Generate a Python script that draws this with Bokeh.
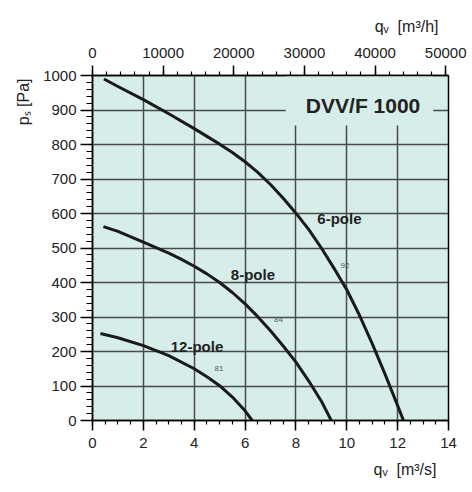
from bokeh.plotting import figure
from bokeh.models import Range1d, LinearAxis, FixedTicker, Label, Grid, Title
from bokeh.embed import file_html
from bokeh.resources import INLINE

# ---------------- data ----------------
x_ticks = [0, 2, 4, 6, 8, 10, 12, 14]
x_minor = [i * 0.5 for i in range(29)]
y_ticks = [0, 100, 200, 300, 400, 500, 600, 700, 800, 900, 1000]
y_minor = [i * 20 for i in range(51)]
h_ticks = [0, 10000, 20000, 30000, 40000, 50000]
h_minor = [i * 2000 for i in range(26)]

pole6_q = [0.45, 1, 2, 3, 4, 5, 5.5, 6, 6.5, 7, 7.5, 8, 8.5, 9, 9.5, 10,
           10.5, 11, 11.5, 12, 12.23]
pole6_p = [990, 968, 930, 889, 846, 801, 777, 750, 719, 684, 644, 601, 554,
           500, 441, 379, 305, 223, 135, 43, 0]
pole8_q = [0.43, 1, 2, 3, 3.5, 4, 4.5, 5, 5.5, 6, 6.5, 7, 7.5, 8, 8.5, 9, 9.39]
pole8_p = [562, 548, 517, 485, 467, 447, 425, 400, 371, 338, 301, 260, 216,
           169, 115, 56, 0]
pole12_q = [0.31, 1, 2, 3, 4, 4.5, 5, 5.5, 6, 6.28]
pole12_p = [252, 240, 217, 188, 150, 127, 101, 68, 28, 0]

curve_names = ["6-pole", "8-pole", "12-pole"]
curve_name_pos = [(9.71, 585), (6.31, 423), (4.11, 214)]
curve_eff = ["92", "84", "81"]
curve_eff_pos = [(9.93, 449), (7.31, 293), (4.97, 152)]
title_text = "DVV/F 1000"
x_title = "q\u1d65\u00a0\u00a0[m\u00b3/s]"
top_title = "q\u1d65\u00a0\u00a0[m\u00b3/h]"
y_title = "p\u209b\u00a0[Pa]"

# ---------------- layout ----------------
W, H = 468, 488
FL, FR, FT, FB = 92, 448, 75, 420  # frame in figure px
BG = "#d7ede9"
FONT = "Liberation Sans"
XMAX, YMAX = 14, 1000

p = figure(width=W, height=H, output_backend="svg", toolbar_location=None,
           x_range=Range1d(0, XMAX), y_range=Range1d(0, YMAX),
           min_border_left=FL, min_border_right=W - FR,
           min_border_top=FT, min_border_bottom=H - FB,
           x_axis_location=None, y_axis_location=None)
p.extra_x_ranges = {"h": Range1d(0, XMAX * 3600)}
p.background_fill_color = BG
p.border_fill_color = "white"
p.outline_line_color = "black"
p.outline_line_width = 1.5


def style_axis(ax, ticks, minor, tout, mout, standoff):
    ax.ticker = FixedTicker(ticks=ticks, minor_ticks=minor)
    ax.axis_line_color = "black"
    ax.axis_line_width = 1.5
    ax.major_tick_line_color = "black"
    ax.major_tick_line_width = 1.5
    ax.minor_tick_line_color = "black"
    ax.minor_tick_line_width = 1.2
    ax.major_tick_in = 0
    ax.minor_tick_in = 0
    ax.major_tick_out = tout
    ax.minor_tick_out = mout
    ax.major_label_standoff = standoff
    ax.major_label_text_font = FONT
    ax.major_label_text_font_size = "15px"
    ax.major_label_text_color = "#222222"
    ax.axis_label = None


xb = LinearAxis()
style_axis(xb, x_ticks, x_minor, 10, 4, 7)
p.add_layout(xb, "below")
yl = LinearAxis()
style_axis(yl, y_ticks, y_minor, 12, 6, 4)
p.add_layout(yl, "left")
xt = LinearAxis(x_range_name="h")
style_axis(xt, h_ticks, h_minor, 10, 4, 8)
p.add_layout(xt, "above")


def side_title(text, place, offset, standoff):
    t = Title(text=text, align="right", offset=offset, standoff=standoff,
              text_font=FONT, text_font_size="16px", text_font_style="normal",
              text_color="#222222")
    p.add_layout(t, place)


side_title(x_title, "below", 12, 17)
side_title(top_title, "above", 10, 19)
side_title(y_title, "left", 3, 18)

p.xgrid.visible = False
p.ygrid.visible = False
gx = Grid(dimension=0, ticker=FixedTicker(ticks=x_ticks[1:-1]),
          grid_line_color="#4a4a4a", grid_line_width=1.5)
gy = Grid(dimension=1, ticker=FixedTicker(ticks=y_ticks[1:-1]),
          grid_line_color="#4a4a4a", grid_line_width=1.5)
p.add_layout(gx)
p.add_layout(gy)

# title box covering the grid
BOX = dict(left=7.6, right=13.4, bottom=855, top=1000)
p.quad(**BOX, fill_color=BG, line_color=None)

for q, ps in [(pole6_q, pole6_p), (pole8_q, pole8_p), (pole12_q, pole12_p)]:
    p.line(q, ps, line_color="#1a1a1a", line_width=3, line_join="round")


def lab(text, x, y, size, bold=False, color="#222222"):
    p.add_layout(Label(x=x, y=y, text=text, text_font=FONT,
                       text_font_size=size,
                       text_font_style="bold" if bold else "normal",
                       text_color=color, text_align="center",
                       text_baseline="middle"))


lab(title_text, 10.64, 913, "21px", bold=True)
for t, (x, y) in zip(curve_names, curve_name_pos):
    lab(t, x, y, "15px", bold=True)
for t, (x, y) in zip(curve_eff, curve_eff_pos):
    lab(t, x, y, "8px", color="#555555")

open("out.html", "w").write(file_html(p, INLINE))
